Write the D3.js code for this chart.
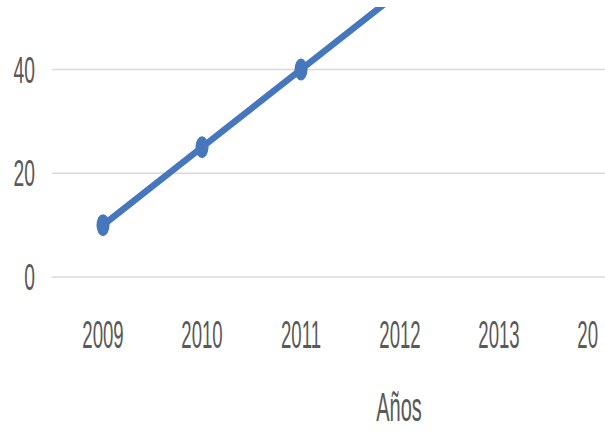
<!DOCTYPE html>
<html><head><meta charset="utf-8">
<script src="https://cdn.jsdelivr.net/npm/d3@7"></script>
<style>html,body{margin:0;padding:0;background:#fff;}svg{display:block;}</style>
</head><body>
<script>
const years = ["2009","2010","2011","2012","2013","2014"];
const values = [10, 25, 40, 55, null, null];
const yTicks = [0, 20, 40];
const xTitle = "Años";

const W = 605, H = 434;
const svg = d3.select("body").append("svg").attr("width", W).attr("height", H);

const x = d3.scalePoint().domain(years).range([103, 598]);
const y = d3.scaleLinear().domain([0, 40]).range([277, 69.5]);

const fontFam = "'Liberation Sans', Arial, sans-serif";
const textColor = "#595959";

const defs = svg.append("defs");
defs.append("clipPath").attr("id", "clip").append("rect")
  .attr("x", 0).attr("y", 7).attr("width", W).attr("height", H);
defs.append("clipPath").attr("id", "clipx").append("rect")
  .attr("x", 0).attr("y", 0).attr("width", 599).attr("height", H);

// gridlines
svg.append("g").selectAll("line").data(yTicks).join("line")
  .attr("x1", 52).attr("x2", W)
  .attr("y1", d => y(d)).attr("y2", d => y(d))
  .attr("stroke", "#d9d9d9").attr("stroke-width", 1.5);

// y tick labels (condensed)
svg.append("g").selectAll("text").data(yTicks).join("text")
  .attr("transform", d => `translate(35,${y(d) + 13}) scale(0.52,1)`)
  .attr("text-anchor", "end")
  .attr("font-family", fontFam).attr("font-size", 37)
  .attr("fill", textColor)
  .text(d => d);

// x tick labels
svg.append("g").attr("clip-path", "url(#clipx)")
  .selectAll("text").data(years).join("text")
  .attr("transform", d => `translate(${x(d)},348) scale(0.49,1)`)
  .attr("text-anchor", "middle")
  .attr("font-family", fontFam).attr("font-size", 38)
  .attr("fill", textColor)
  .text(d => d);

// x axis title
svg.append("text")
  .attr("transform", `translate(399,421) scale(0.5,1)`)
  .attr("text-anchor", "middle")
  .attr("font-family", fontFam).attr("font-size", 40)
  .attr("fill", textColor)
  .text(xTitle);

const pts = years.map((d, i) => ({year: d, v: values[i]})).filter(d => d.v != null);
const color = "#4677bd";
const g = svg.append("g").attr("clip-path", "url(#clip)");
g.append("path").datum(pts)
  .attr("d", d3.line().x(d => x(d.year)).y(d => y(d.v)))
  .attr("fill", "none").attr("stroke", color).attr("stroke-width", 6.5)
  .attr("stroke-linejoin", "round");
g.selectAll("ellipse").data(pts).join("ellipse")
  .attr("cx", d => x(d.year)).attr("cy", d => y(d.v))
  .attr("rx", 6.5).attr("ry", 11)
  .attr("fill", color);
</script>
</body></html>
